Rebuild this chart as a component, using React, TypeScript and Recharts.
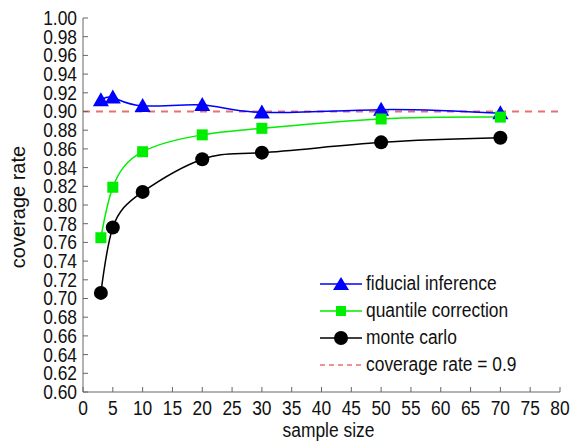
import React from 'react';
import { LineChart, Line, XAxis, YAxis, ReferenceLine } from 'recharts';

const sampleSizes = [3, 5, 10, 20, 30, 50, 70];
const fiducial = [0.912, 0.915, 0.906, 0.907, 0.899, 0.902, 0.898];
const quantile = [0.765, 0.819, 0.857, 0.875, 0.882, 0.892, 0.894];
const monteCarlo = [0.706, 0.776, 0.814, 0.849, 0.856, 0.867, 0.872];
const xTicks = [0, 5, 10, 15, 20, 25, 30, 35, 40, 45, 50, 55, 60, 65, 70, 75, 80];
const yTicks = [0.6, 0.62, 0.64, 0.66, 0.68, 0.7, 0.72, 0.74, 0.76, 0.78, 0.8, 0.82, 0.84, 0.86, 0.88, 0.9, 0.92, 0.94, 0.96, 0.98, 1.0];
const target = 0.9;

const data = sampleSizes.map((n, i) => ({
  n,
  fiducial: fiducial[i],
  quantile: quantile[i],
  monteCarlo: monteCarlo[i],
}));

const FONT = "'Liberation Sans', Arial, sans-serif";
const FS = 20;
const SQ = 0.87;
const AXIS = '#666';
const BLUE = '#0000ff';
const GREEN = '#00ee00';
const RED = '#e87070';
const TEXT = '#111';

const Triangle = (props: any) => {
  const { cx, cy } = props;
  if (cx == null || cy == null) return null;
  const s = 8;
  return <path d={`M${cx},${cy - s} L${cx + s},${cy + s * 0.75} L${cx - s},${cy + s * 0.75} Z`} fill={BLUE} stroke="none" />;
};
const Square = (props: any) => {
  const { cx, cy } = props;
  if (cx == null || cy == null) return null;
  return <rect x={cx - 5.5} y={cy - 5.5} width={11} height={11} fill={GREEN} stroke="none" />;
};
const Dot = (props: any) => {
  const { cx, cy } = props;
  if (cx == null || cy == null) return null;
  return <circle cx={cx} cy={cy} r={7} fill="#000" stroke="none" />;
};

const YTick = (props: any) => {
  const { x, y, payload } = props;
  return (
    <text transform={`translate(${x},${y}) scale(${SQ},1)`} textAnchor="end" dominantBaseline="central"
      fontFamily={FONT} fontSize={FS} fill={TEXT}>
      {Number(payload.value).toFixed(2)}
    </text>
  );
};
const XTick = (props: any) => {
  const { x, y, payload } = props;
  return (
    <text transform={`translate(${x},${y}) scale(${SQ},1)`} textAnchor="middle" dominantBaseline="central"
      fontFamily={FONT} fontSize={FS} fill={TEXT}>
      {payload.value}
    </text>
  );
};
const XLabel = (props: any) => {
  const vb = props.viewBox || { x: 83, y: 392, width: 477, height: 49 };
  const cx = vb.x + vb.width / 2 + 7;
  const cy = vb.y + 38;
  return (
    <text transform={`translate(${cx},${cy}) scale(${SQ},1)`} textAnchor="middle" dominantBaseline="central"
      fontFamily={FONT} fontSize={FS} fill={TEXT}>
      sample size
    </text>
  );
};
const YLabel = (props: any) => {
  const vb = props.viewBox || { x: 0, y: 18, width: 83, height: 374 };
  const cx = vb.x + 18;
  const cy = vb.y + vb.height / 2 + 2;
  return (
    <text transform={`translate(${cx},${cy}) rotate(-90)`} textAnchor="middle" dominantBaseline="central"
      fontFamily={FONT} fontSize={FS} fill={TEXT}>
      coverage rate
    </text>
  );
};

const legendItems = [
  { label: 'fiducial inference', color: BLUE, marker: 'tri' },
  { label: 'quantile correction', color: GREEN, marker: 'sq' },
  { label: 'monte carlo', color: '#000', marker: 'circ' },
  { label: 'coverage rate = 0.9', color: RED, marker: 'dash' },
];

const LegendBox = () => (
  <div style={{ position: 'absolute', left: 318, top: 270, fontFamily: FONT, fontSize: FS, color: TEXT }}>
    {legendItems.map((it) => (
      <div key={it.label} style={{ display: 'flex', alignItems: 'center', height: 27 }}>
        <svg width={46} height={20} style={{ marginRight: 2, flex: 'none' }}>
          {it.marker === 'dash' ? (
            <line x1={2} y1={10} x2={44} y2={10} stroke={it.color} strokeWidth={1.5} strokeDasharray="5 4" />
          ) : (
            <line x1={2} y1={10} x2={44} y2={10} stroke={it.color} strokeWidth={1.5} />
          )}
          {it.marker === 'tri' && <path d="M23,3 L31,16 L15,16 Z" fill={BLUE} />}
          {it.marker === 'sq' && <rect x={18} y={5} width={10} height={10} fill={GREEN} />}
          {it.marker === 'circ' && <circle cx={23} cy={10} r={7} fill="#000" />}
        </svg>
        <span style={{ lineHeight: '27px', whiteSpace: 'nowrap', display: 'inline-block', transform: `scaleX(${SQ})`, transformOrigin: 'left center' }}>{it.label}</span>
      </div>
    ))}
  </div>
);

export default function App() {
  return (
    <div style={{ position: 'absolute', left: 0, top: 0, width: 570, height: 441, background: '#fff' }}>
      <LineChart width={570} height={441} data={data} margin={{ top: 18, right: 10, bottom: 0, left: 0 }}>
        <XAxis
          dataKey="n"
          type="number"
          domain={[0, 80]}
          ticks={xTicks}
          interval={0}
          allowDataOverflow
          height={49}
          stroke={AXIS}
          tickSize={-5}
          tickMargin={21}
          tick={<XTick />}
          label={<XLabel />}
        />
        <XAxis
          xAxisId="top"
          dataKey="n"
          type="number"
          orientation="top"
          domain={[0, 80]}
          ticks={xTicks}
          interval={0}
          height={0}
          mirror
          stroke={AXIS}
          tickSize={5}
          tickFormatter={() => ''}
        />
        <YAxis
          type="number"
          domain={[0.6, 1.0]}
          ticks={yTicks}
          interval={0}
          allowDataOverflow
          width={83}
          stroke={AXIS}
          tickSize={-5}
          tickMargin={11}
          tick={<YTick />}
          label={<YLabel />}
        />
        <YAxis
          yAxisId="right"
          type="number"
          orientation="right"
          domain={[0.6, 1.0]}
          ticks={yTicks}
          interval={0}
          width={0}
          mirror
          stroke={AXIS}
          tickSize={5}
          tickFormatter={() => ''}
        />
        <ReferenceLine y={target} stroke={RED} strokeWidth={2} strokeDasharray="7 6" />
        <Line type="natural" dataKey="fiducial" stroke={BLUE} strokeWidth={1.5} dot={<Triangle />} activeDot={false} isAnimationActive={false} />
        <Line type="natural" dataKey="quantile" stroke={GREEN} strokeWidth={1.5} dot={<Square />} activeDot={false} isAnimationActive={false} />
        <Line type="natural" dataKey="monteCarlo" stroke="#000" strokeWidth={1.5} dot={<Dot />} activeDot={false} isAnimationActive={false} />
      </LineChart>
      <LegendBox />
    </div>
  );
}
